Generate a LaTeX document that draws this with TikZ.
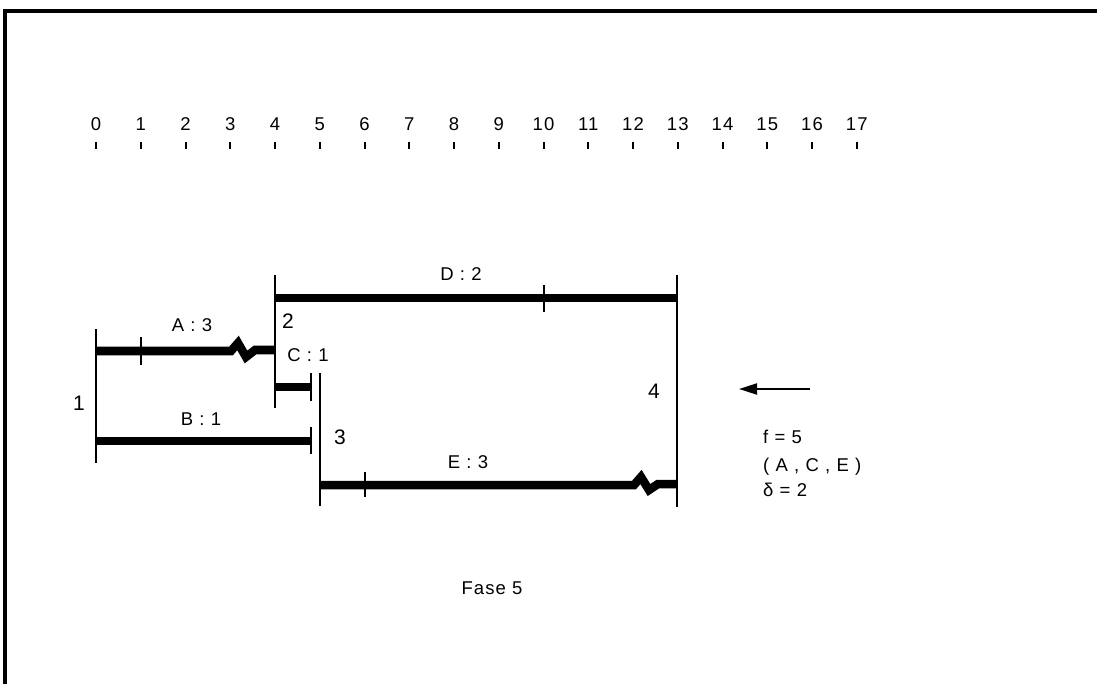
\documentclass[tikz,border=0pt]{standalone}
\usepackage{fontspec}
\setmainfont{Liberation Sans}[LetterSpace=6]
\usetikzlibrary{arrows.meta}
\begin{document}
\begin{tikzpicture}[x=1pt,y=-1pt,
  txt/.style={inner sep=0pt,font=\fontsize{18.5}{20}\selectfont},
  evnum/.style={inner sep=0pt,font=\fontsize{21}{24}\selectfont},
  tickmark/.style={line width=2pt},
  event/.style={line width=2pt},
  activity/.style={line width=8.5pt,line cap=butt,line join=miter},
  marker/.style={line width=2pt}]
\useasboundingbox (0,0) rectangle (1097,684);
% frame
\draw[line width=4pt,line join=miter] (4.5,700) -- (4.5,11) -- (1110,11);
% time scale
\foreach \t in {0,...,17}{
  \coordinate (s\t) at ({96+44.75*\t},142);
  \coordinate (e\t) at ({96+44.75*\t},149);
  \draw[tickmark] (s\t) -- (e\t);
  \node[txt,anchor=base] (l\t) at ({96+44.75*\t},131) {\t};
}
% event lines
\coordinate (v1a) at (96,329);   \coordinate (v1b) at (96,463);
\coordinate (v2a) at (275,275);  \coordinate (v2b) at (275,408);
\coordinate (v3a) at (320,373);  \coordinate (v3b) at (320,506);
\coordinate (v4a) at (677,275);  \coordinate (v4b) at (677,507);
\draw[event] (v1a) -- (v1b);
\draw[event] (v2a) -- (v2b);
\draw[event] (v3a) -- (v3b);
\draw[event] (v4a) -- (v4b);
% activity A with break
\coordinate (a0) at (96,351);
\coordinate (a1) at (231,351);
\coordinate (a2) at (238,343);
\coordinate (a3) at (246,357);
\coordinate (a4) at (255,350);
\coordinate (a5) at (275,350);
\draw[activity] (a0) -- (a1) -- (a2) -- (a3) -- (a4) -- (a5);
\coordinate (at1) at (140.75,337); \coordinate (at2) at (140.75,365);
\draw[marker] (at1) -- (at2);
% activity B
\coordinate (b0) at (96,441); \coordinate (b1) at (311,441);
\draw[activity] (b0) -- (b1);
\coordinate (bt1) at (311,427); \coordinate (bt2) at (311,454);
\draw[marker] (bt1) -- (bt2);
% activity C
\coordinate (c0) at (275,387); \coordinate (c1) at (311,387);
\draw[activity] (c0) -- (c1);
\coordinate (ct1) at (311,373); \coordinate (ct2) at (311,401);
\draw[marker] (ct1) -- (ct2);
% activity D
\coordinate (d0) at (275,298); \coordinate (d1) at (677,298);
\draw[activity] (d0) -- (d1);
\coordinate (dt1) at (543.5,285); \coordinate (dt2) at (543.5,312);
\draw[marker] (dt1) -- (dt2);
% activity E with break
\coordinate (f0) at (320,485);
\coordinate (f1) at (634,485);
\coordinate (f2) at (641,477);
\coordinate (f3) at (649,490);
\coordinate (f4) at (658,484);
\coordinate (f5) at (677,484);
\draw[activity] (f0) -- (f1) -- (f2) -- (f3) -- (f4) -- (f5);
\coordinate (ft1) at (364.5,472); \coordinate (ft2) at (364.5,497);
\draw[marker] (ft1) -- (ft2);
% activity labels
\node[txt,anchor=base] (la) at (192,332) {A : 3};
\node[txt,anchor=base] (lb) at (201,425) {B : 1};
\node[txt,anchor=base] (lc) at (308,361) {C : 1};
\node[txt,anchor=base] (ld) at (461,281) {D : 2};
\node[txt,anchor=base] (le) at (468,468) {E : 3};
% event numbers
\node[evnum,anchor=base] (n1) at (79,410) {1};
\node[evnum,anchor=base] (n2) at (288,329) {2};
\node[evnum,anchor=base] (n3) at (340,444) {3};
\node[evnum,anchor=base] (n4) at (654,398) {4};
% direction arrow
\coordinate (ar0) at (810,389); \coordinate (ar1) at (739,389);
\draw[line width=2pt,-{Triangle[length=18pt,width=11pt]}] (ar0) -- (ar1);
% result
\node[txt,anchor=base west] (r1) at (763,443) {f = 5};
\node[txt,anchor=base west] (r2) at (763,471) {( A , C , E )};
\node[txt,anchor=base west] (r3) at (763,496) {δ = 2};
% caption
\node[txt,anchor=base] (cap) at (492,594) {Fase 5};
\end{tikzpicture}
\end{document}
